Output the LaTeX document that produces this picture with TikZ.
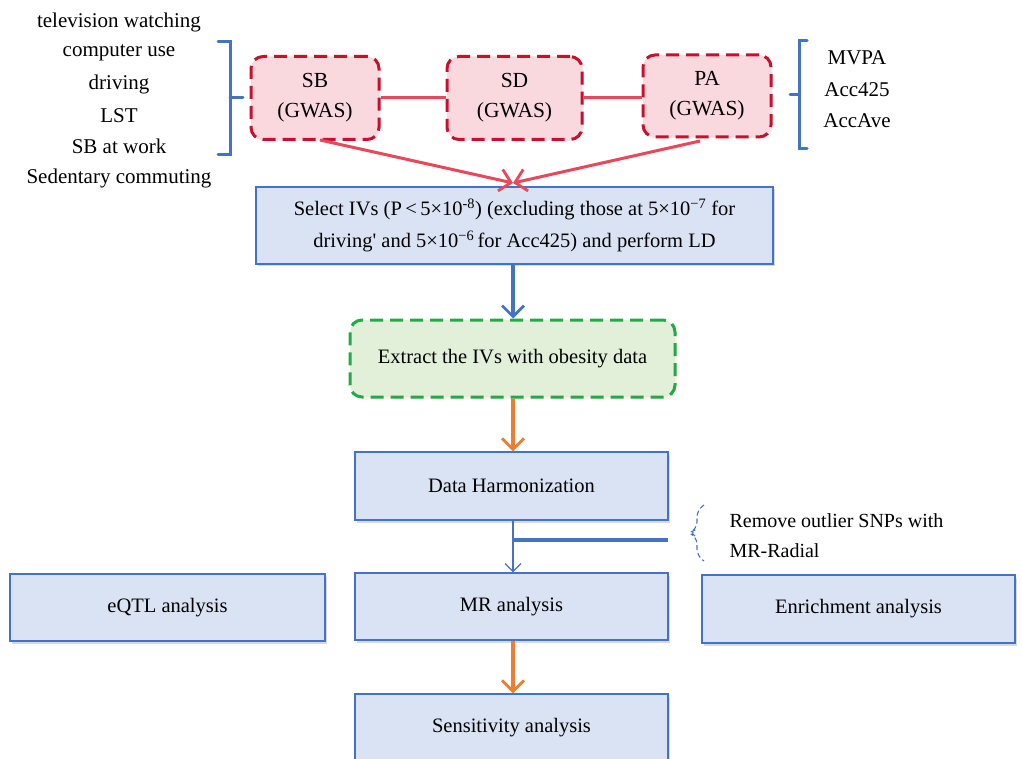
\documentclass[tikz,border=0pt]{standalone}
\usepackage{fontspec}
\setmainfont{Liberation Serif}
\usetikzlibrary{arrows.meta,shadows}
\definecolor{sbred}{HTML}{C8102E}
\definecolor{sbfill}{HTML}{F9D9DD}
\definecolor{linkred}{HTML}{E8485A}
\definecolor{stepblue}{HTML}{4472C4}
\definecolor{stepfill}{HTML}{DAE3F3}
\definecolor{obgreen}{HTML}{22A94A}
\definecolor{obfill}{HTML}{E2F0D9}
\definecolor{flowor}{HTML}{ED7D31}
\begin{document}
\begin{tikzpicture}[x=1pt,y=-1pt,
  gwas/.style={draw=sbred,fill=sbfill,line width=3pt,dash pattern=on 13pt off 7pt,
    rounded corners=12pt,align=center,font=\fontsize{21.5}{30}\selectfont,
    drop shadow={opacity=0.15,shadow xshift=1.5pt,shadow yshift=-1.5pt}},
  stepbox/.style={draw=stepblue,fill=stepfill,line width=1.2pt,align=center,
    font=\fontsize{20.5}{32}\selectfont,inner sep=0pt,
    drop shadow={opacity=0.3,shadow xshift=2pt,shadow yshift=-2.5pt}},
  obbox/.style={draw=obgreen,fill=obfill,line width=3pt,dash pattern=on 13pt off 7pt,
    rounded corners=12pt,font=\fontsize{20.5}{24}\selectfont,
    drop shadow={opacity=0.2,fill=orange!60,shadow xshift=2pt,shadow yshift=-2.5pt}},
  listtxt/.style={font=\fontsize{21}{24}\selectfont,inner sep=0pt},
  barb/.style={-{Straight Barb[length=11pt,width=22pt,line width=2.8pt]}},
  every node/.style={text=black}]
\useasboundingbox (0,0) rectangle (1022,759);
% exposure lists
\foreach \txt [count=\i] in {television watching,computer use,driving,LST,SB at work,Sedentary commuting}
  \node[listtxt] (sbl\i) at (119,{22+31.2*(\i-1)}) {\txt};
\foreach \txt [count=\i] in {MVPA,Acc425,AccAve}
  \node[listtxt] (pal\i) at (857,{58+31.5*(\i-1)}) {\txt};
\draw[stepblue,line width=3pt,line cap=round] (218,42) -- (230,42) -- (230,155) -- (218,155)
  (230,98) -- (243,98);
\draw[stepblue,line width=3pt,line cap=round] (807,41) -- (799,41) -- (799,149) -- (807,149)
  (799,95) -- (790,95);
% GWAS sources
\node[gwas,minimum width=128pt,minimum height=83pt] (sb) at (315,98) {SB\\(GWAS)};
\node[gwas,minimum width=135pt,minimum height=83pt] (sd) at (514.5,98) {SD\\(GWAS)};
\node[gwas,minimum width=128pt,minimum height=82pt] (pa) at (707,96) {PA\\(GWAS)};
\draw[linkred,line width=3pt] (sb.east) -- (sd.east -| sd.west);
\draw[linkred,line width=3pt] (sd.east) -- (sd.east -| pa.west);
% steps
\node[stepbox,minimum width=517pt,minimum height=77pt] (sel) at (514.5,225.5)
  {Select IVs (P\,<\,5×10\textsuperscript{-8}) (excluding those at 5×10\textsuperscript{−7} for\\
   driving\textquotesingle{} and 5×10\textsuperscript{−6}\,for Acc425) and perform LD};
\coordinate (meet) at (513,183);
\draw[linkred,line width=3pt,barb] (320,140) -- (meet);
\draw[linkred,line width=3pt,barb] (700,141) -- (meet);
\node[obbox,minimum width=325pt,minimum height=77pt] (ext) at (512.5,358.5)
  {Extract the IVs with obesity data};
\node[stepbox,minimum width=313pt,minimum height=68pt] (dh) at (511.5,486) {Data Harmonization};
\node[stepbox,minimum width=315pt,minimum height=67pt] (eqtl) at (167.5,607.5) {eQTL analysis};
\node[stepbox,minimum width=313pt,minimum height=67pt] (mr) at (511.5,606.5) {MR analysis};
\node[stepbox,minimum width=313pt,minimum height=68pt] (enr) at (858.5,609) {Enrichment analysis};
\node[stepbox,minimum width=313pt,minimum height=68pt] (sens) at (511.5,728) {Sensitivity analysis};
% connectors
\draw[stepblue,line width=3.5pt,barb] (sel.south -| 513,0) -- (ext.north -| 513,0);
\draw[flowor,line width=3.5pt,barb] (ext.south -| 513,0) -- (dh.north -| 513,0);
\draw[stepblue,line width=1.2pt,-{Straight Barb[length=8pt,width=16pt,line width=1.2pt]}]
  (dh.south -| 513,0) -- (mr.north -| 513,0);
\coordinate (rad) at (668,540);
\draw[stepblue,line width=3.5pt] (513,540) -- (rad);
\draw[flowor,line width=3.5pt,barb] (mr.south -| 513,0) -- (sens.north -| 513,0);
% outlier note
\draw[stepblue,line width=1.1pt,dash pattern=on 5pt off 3pt,rounded corners=7pt]
  (704,505) -- (697,510) -- (697,529) -- (689,533) -- (697,537) -- (697,556) -- (704,561);
\node[font=\fontsize{20}{30}\selectfont,align=left,anchor=west] (note) at (726,536)
  {Remove outlier SNPs with\\MR-Radial};
\end{tikzpicture}
\end{document}
